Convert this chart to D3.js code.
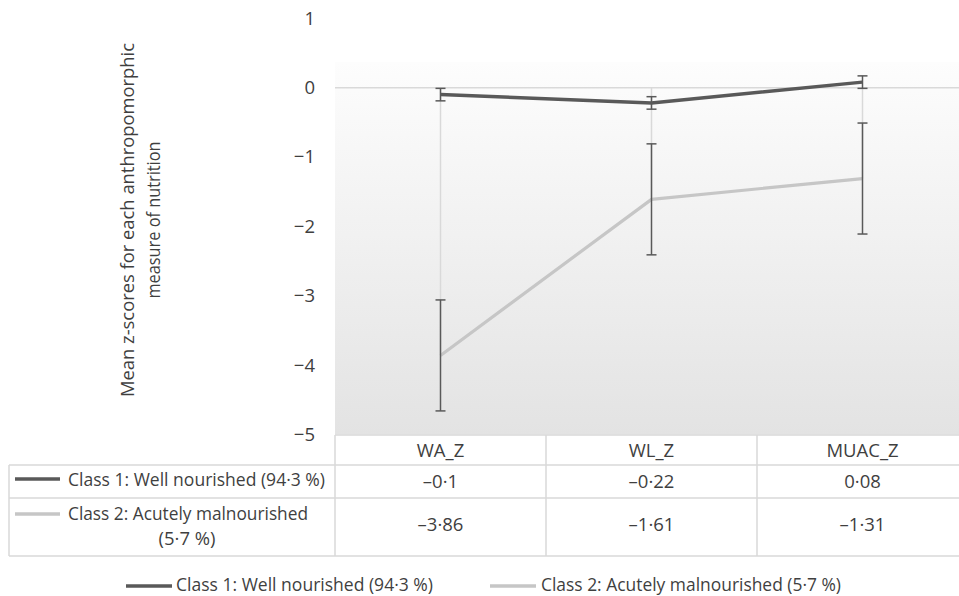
<!DOCTYPE html>
<html><head><meta charset="utf-8">
<script src="https://cdn.jsdelivr.net/npm/d3@7"></script>
<style>body{margin:0;background:#fff;overflow:hidden}</style>
</head><body>
<script>
// ---- data ----
const categories = ["WA_Z", "WL_Z", "MUAC_Z"];
const seriesNames = ["Class 1: Well nourished (94·3 %)", "Class 2: Acutely malnourished (5·7 %)"];
const class1 = [-0.10, -0.22, 0.08];
const class2 = [-3.86, -1.61, -1.31];
const class1Err = [0.09, 0.09, 0.09];
const class2Err = [0.80, 0.80, 0.80];
const class1Labels = ["–0·1", "–0·22", "0·08"];
const class2Labels = ["–3·86", "–1·61", "–1·31"];
const yTicks = [1, 0, -1, -2, -3, -4, -5];
const yTitle = ["Mean z-scores for each anthropomorphic", "measure of nutrition"];

// ---- setup ----
const W = 959, H = 596;
const FONT = "'Open Sans', 'Noto Sans', sans-serif";
const TXT = "#3f3f3f";
const GRID = "#d9d9d9";
const C1 = "#595959", C2 = "#c6c6c6";
const FS = "18.5px";

const svg = d3.select("body").append("svg").attr("width", W).attr("height", H)
  .style("font-family", FONT);

const x = d3.scaleBand().domain(categories).range([335, 968]);
const y = d3.scaleLinear().domain([-5, 1]).range([434.5, 18.3]);
const cx = c => x(c) + x.bandwidth() / 2;

// background gradient
const defs = svg.append("defs");
const grad = defs.append("linearGradient").attr("id", "bg").attr("x1", 0).attr("x2", 0).attr("y1", 0).attr("y2", 1);
grad.append("stop").attr("offset", "0%").attr("stop-color", "#fdfdfd");
grad.append("stop").attr("offset", "100%").attr("stop-color", "#e3e3e3");
svg.append("rect").attr("x", 335).attr("y", 62).attr("width", W - 335).attr("height", y(-5) - 62)
  .attr("fill", "url(#bg)");

// zero line (category axis crossing)
svg.append("line").attr("x1", 335).attr("x2", W).attr("y1", y(0)).attr("y2", y(0))
  .attr("stroke", GRID).attr("stroke-width", 1.5);

// drop lines from each point to the axis
categories.forEach((c, i) => {
  const lo = Math.min(class1[i], class2[i], 0);
  svg.append("line").attr("x1", cx(c)).attr("x2", cx(c)).attr("y1", y(0)).attr("y2", y(lo))
    .attr("stroke", GRID).attr("stroke-width", 1.5);
});

// y axis
const yAxis = d3.axisLeft(y).tickValues(yTicks).tickSize(0).tickPadding(20)
  .tickFormat(d => d < 0 ? "−" + Math.abs(d) : String(d));
const gy = svg.append("g").attr("transform", "translate(335,0)").call(yAxis);
gy.select(".domain").remove();
gy.selectAll("text").attr("fill", TXT).style("font-size", FS).style("font-family", FONT);

// y title
const gt = svg.append("g").attr("transform", "translate(0,220) rotate(-90)");
gt.append("text").attr("x", 0).attr("y", 134).attr("text-anchor", "middle").attr("fill", TXT)
  .style("font-size", FS).attr("textLength", 354).attr("lengthAdjust", "spacingAndGlyphs").text(yTitle[0]);
gt.append("text").attr("x", 0).attr("y", 160).attr("text-anchor", "middle").attr("fill", TXT)
  .style("font-size", FS).attr("textLength", 157).attr("lengthAdjust", "spacingAndGlyphs").text(yTitle[1]);

// lines
const line = d3.line().x((d, i) => cx(categories[i])).y(d => y(d));
svg.append("path").datum(class2).attr("d", line).attr("fill", "none").attr("stroke", C2)
  .attr("stroke-width", 3.2).attr("stroke-linejoin", "round");
svg.append("path").datum(class1).attr("d", line).attr("fill", "none").attr("stroke", C1)
  .attr("stroke-width", 3.5).attr("stroke-linejoin", "round");

// error bars
function errBars(vals, errs) {
  const g = svg.append("g").attr("stroke", C1).attr("stroke-width", 1.5);
  vals.forEach((v, i) => {
    const xc = cx(categories[i]);
    g.append("line").attr("x1", xc).attr("x2", xc).attr("y1", y(v + errs[i])).attr("y2", y(v - errs[i]));
    [v + errs[i], v - errs[i]].forEach(e => {
      g.append("line").attr("x1", xc - 5).attr("x2", xc + 5).attr("y1", y(e)).attr("y2", y(e));
    });
  });
}
errBars(class2, class2Err);
errBars(class1, class1Err);

// ---- data table ----
const tbl = svg.append("g").attr("stroke", GRID).attr("stroke-width", 1.5);
const rowY = [435, 465, 498, 556];
tbl.append("line").attr("x1", 335).attr("x2", W).attr("y1", rowY[0]).attr("y2", rowY[0]);
[1, 2, 3].forEach(k => tbl.append("line").attr("x1", 9).attr("x2", W).attr("y1", rowY[k]).attr("y2", rowY[k]));
tbl.append("line").attr("x1", 9).attr("x2", 9).attr("y1", rowY[1]).attr("y2", rowY[3]);
categories.forEach(c => tbl.append("line").attr("x1", x(c)).attr("x2", x(c)).attr("y1", rowY[0]).attr("y2", rowY[3]));

// header categories via axis
const xAxis = d3.axisBottom(x).tickSize(0).tickPadding(9);
const gx = svg.append("g").attr("transform", `translate(0,${rowY[0]})`).call(xAxis);
gx.select(".domain").remove();
gx.selectAll("text").attr("fill", TXT).style("font-size", FS).style("font-family", FONT);

// row labels with keys
svg.append("line").attr("x1", 15).attr("x2", 60).attr("y1", 479).attr("y2", 479).attr("stroke", C1).attr("stroke-width", 3.5);
svg.append("text").attr("x", 68).attr("y", 486).attr("fill", TXT).style("font-size", FS)
  .attr("textLength", 257).attr("lengthAdjust", "spacingAndGlyphs").text(seriesNames[0]);
svg.append("line").attr("x1", 15).attr("x2", 60).attr("y1", 514).attr("y2", 514).attr("stroke", C2).attr("stroke-width", 3.5);
const s2 = seriesNames[1];
const cut = s2.indexOf(" (");
svg.append("text").attr("x", 68).attr("y", 520).attr("fill", TXT).style("font-size", FS)
  .attr("textLength", 240).attr("lengthAdjust", "spacingAndGlyphs").text(s2.slice(0, cut));
svg.append("text").attr("x", 187).attr("y", 545).attr("text-anchor", "middle").attr("fill", TXT)
  .style("font-size", FS).attr("textLength", 57).attr("lengthAdjust", "spacingAndGlyphs").text(s2.slice(cut + 1));

// values
categories.forEach((c, i) => {
  svg.append("text").attr("x", cx(c)).attr("y", 488).attr("text-anchor", "middle").attr("fill", TXT)
    .style("font-size", FS).text(class1Labels[i]);
  svg.append("text").attr("x", cx(c)).attr("y", 531).attr("text-anchor", "middle").attr("fill", TXT)
    .style("font-size", FS).text(class2Labels[i]);
});

// ---- bottom legend ----
const leg = [
  { name: seriesNames[0], color: C1, x1: 126, x2: 172, tx: 176, len: 257 },
  { name: seriesNames[1], color: C2, x1: 490, x2: 536, tx: 541, len: 300 }
];
leg.forEach(l => {
  svg.append("line").attr("x1", l.x1).attr("x2", l.x2).attr("y1", 586).attr("y2", 586)
    .attr("stroke", l.color).attr("stroke-width", 3.5);
  svg.append("text").attr("x", l.tx).attr("y", 591).attr("fill", TXT).style("font-size", FS)
    .attr("textLength", l.len).attr("lengthAdjust", "spacingAndGlyphs").text(l.name);
});
</script>
</body></html>
